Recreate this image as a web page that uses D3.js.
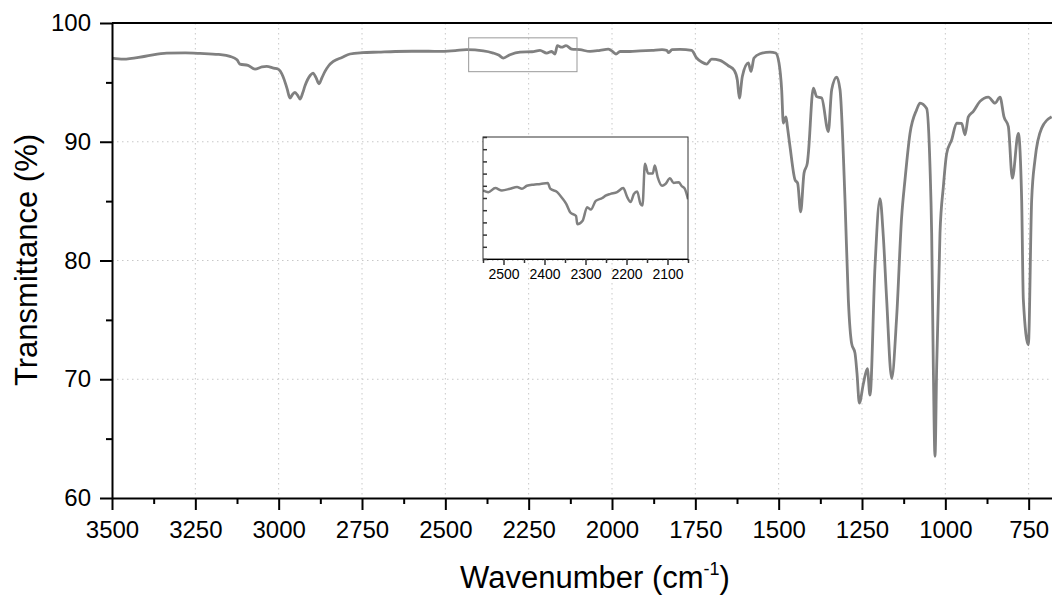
<!DOCTYPE html>
<html>
<head>
<meta charset="utf-8">
<script src="https://cdn.jsdelivr.net/npm/d3@7"></script>
<style>
  body { margin: 0; background: #fff; }
  svg { font-family: "Liberation Sans", Arial, sans-serif; }
</style>
</head>
<body>
<div id="graph"></div>
<script>
// spectrum (wavenumber cm-1, transmittance %)
var wavenumber = [3500, 3466, 3400, 3336, 3280, 3236, 3180, 3146, 3125, 3116, 3092, 3071, 3050, 3036, 3015, 3002,
    2987, 2975, 2966, 2958, 2951, 2943, 2936, 2928, 2921, 2905, 2897, 2888, 2879, 2870, 2861, 2850, 2836, 2810,
    2786, 2750, 2700, 2650, 2600, 2550, 2516, 2470, 2436, 2386, 2356, 2340, 2326, 2306, 2276, 2240, 2216, 2196,
    2181, 2171, 2164, 2151, 2138, 2121, 2096, 2066, 2036, 2011, 1996, 1988, 1976, 1946, 1916, 1880, 1850, 1836,
    1830, 1820, 1796, 1761, 1746, 1731, 1716, 1701, 1676, 1651, 1633, 1624, 1618, 1609, 1591, 1583, 1574, 1556,
    1526, 1509, 1499, 1491, 1486, 1478, 1474, 1466, 1451, 1443, 1434, 1424, 1414, 1411, 1396, 1386, 1371, 1351,
    1341, 1326, 1316, 1301, 1291, 1281, 1271, 1265, 1258, 1246, 1234, 1226, 1211, 1196, 1186, 1176, 1161, 1146,
    1131, 1121, 1106, 1086, 1076, 1056, 1046, 1041, 1036, 1031, 1026, 1016, 1006, 996, 981, 966, 951, 941, 931,
    916, 896, 871, 851, 836, 824, 811, 799, 781, 771, 766, 751, 741, 731, 711, 681];
var transmittance = [97.05, 96.96, 97.2, 97.47, 97.48, 97.44, 97.35, 97.19, 96.9, 96.54, 96.43, 96.12, 96.3, 96.34, 96.2, 96.12,
    95.5, 94.5, 93.68, 94.0, 94.15, 93.9, 93.6, 94.1, 94.71, 95.6, 95.78, 95.4, 94.88, 95.4, 95.92, 96.4, 96.76, 97.1,
    97.39, 97.5, 97.55, 97.6, 97.62, 97.62, 97.61, 97.68, 97.75, 97.66, 97.47, 97.3, 97.05, 97.33, 97.55, 97.58, 97.69, 97.47,
    97.6, 97.39, 98.09, 97.97, 98.09, 97.8, 97.75, 97.61, 97.7, 97.8, 97.55, 97.39, 97.6, 97.6, 97.65, 97.7, 97.75, 97.7,
    97.5, 97.75, 97.78, 97.69, 97.05, 96.71, 96.54, 96.96, 96.85, 96.4, 96.0, 95.2, 93.68, 95.5, 96.63, 95.92, 97.05, 97.41,
    97.55, 97.47, 96.63, 94.38, 91.57, 92.1, 91.3, 89.6, 86.8, 86.5, 84.1, 87.35, 88.2, 89.0, 94.52, 93.8, 93.68, 90.86,
    94.38, 95.45, 94.4, 85.1, 76.7, 73.0, 72.2, 70.5, 68.0, 69.6, 70.9, 68.66, 79.5, 85.2, 82.0, 76.7, 70.07, 75.26,
    83.7, 86.8, 90.7, 92.7, 93.25, 92.8, 87.9, 82.3, 71.0, 63.5, 71.0, 82.3, 86.2, 89.0, 90.16, 91.57, 91.55, 90.58, 92.1,
    92.55, 93.4, 93.76, 93.25, 93.76, 92.1, 91.28, 86.93, 90.7, 85.1, 76.7, 72.9, 85.1, 88.5, 91.15, 92.1];

// zoomed part 2550-2050 shown in the inset
var insetWavenumber = [2550, 2537, 2520, 2504, 2484, 2467, 2455, 2443, 2427, 2410, 2392, 2386, 2369, 2357, 2347, 2337,
    2323, 2320, 2307, 2296, 2287, 2275, 2259, 2251, 2239, 2223, 2208, 2198, 2190, 2182, 2174, 2166, 2161, 2155,
    2147, 2136, 2131, 2124, 2113, 2105, 2094, 2085, 2072, 2066, 2058, 2050];
var insetTransmittance = [97.63, 97.6, 97.67, 97.63, 97.66, 97.69, 97.66, 97.71, 97.73, 97.74, 97.76, 97.66, 97.6, 97.5, 97.4, 97.25,
    97.19, 97.05, 97.11, 97.34, 97.3, 97.45, 97.5, 97.54, 97.57, 97.6, 97.67, 97.51, 97.43, 97.57, 97.61, 97.4, 97.37, 98.09,
    97.92, 97.92, 98.06, 97.86, 97.71, 97.74, 97.84, 97.76, 97.77, 97.71, 97.66, 97.48];

var xTicks = [3500, 3250, 3000, 2750, 2500, 2250, 2000, 1750, 1500, 1250, 1000, 750];
var xMinor = [3375, 3125, 2875, 2625, 2375, 2125, 1875, 1625, 1375, 1125, 875];
var yTicks = [60, 70, 80, 90, 100];
var yMinor = [65, 75, 85, 95];
var insetTicks = [2500, 2400, 2300, 2200, 2100];
var insetMinor = [2550, 2450, 2350, 2250, 2150, 2050];
var zoomBox = [2430, 2105, 95.9, 98.75];

var margin = {top: 23, right: 0, bottom: 98, left: 112},
    width = 1052 - margin.left - margin.right,
    height = 596 - margin.top - margin.bottom;

var svgRoot = d3.select("#graph")
    .append("svg")
    .attr("width", 1052)
    .attr("height", 596);

var svg = svgRoot.append("g")
    .attr("transform", "translate(" + margin.left + "," + margin.top + ")");

var x = d3.scaleLinear().domain([3500, 680]).range([0, width]);
var y = d3.scaleLinear().domain([60, 100]).range([height, 0]);

var gridColor = "#c8c8c8";
var fmt = d3.format("d");

// grid
svg.selectAll(".vgrid")
    .data(xTicks.slice(1))
    .enter()
    .append("line")
    .attr("x1", d => x(d)).attr("x2", d => x(d))
    .attr("y1", 0).attr("y2", height)
    .attr("stroke", gridColor)
    .attr("stroke-dasharray", "1.5,3.5");

svg.selectAll(".hgrid")
    .data(yTicks.slice(1, -1))
    .enter()
    .append("line")
    .attr("x1", 0).attr("x2", width)
    .attr("y1", d => y(d)).attr("y2", d => y(d))
    .attr("stroke", gridColor)
    .attr("stroke-dasharray", "1.5,3.5");

var spectrum = wavenumber.map((d, i) => [d, transmittance[i]]);

var line = d3.line()
    .x(d => x(d[0]))
    .y(d => y(d[1]))
    .curve(d3.curveMonotoneX);

svg.append("path")
    .datum(spectrum)
    .attr("fill", "none")
    .attr("stroke", "#808080")
    .attr("stroke-width", 2.8)
    .attr("stroke-linejoin", "round")
    .attr("d", line);

// rectangle marking the zoomed part
svg.append("rect")
    .attr("x", x(zoomBox[0]))
    .attr("y", y(zoomBox[3]))
    .attr("width", x(zoomBox[1]) - x(zoomBox[0]))
    .attr("height", y(zoomBox[2]) - y(zoomBox[3]))
    .attr("fill", "none")
    .attr("stroke", "#999")
    .attr("stroke-width", 1);

// axes
var xAxis = svg.append("g")
    .attr("transform", "translate(0," + height + ")")
    .call(d3.axisBottom(x).tickValues(xTicks).tickSize(12).tickSizeOuter(0).tickPadding(11).tickFormat(fmt));
svg.append("g")
    .attr("transform", "translate(0," + height + ")")
    .call(d3.axisBottom(x).tickValues(xMinor).tickSize(6).tickSizeOuter(0).tickFormat(""))
    .select(".domain").remove();

var yAxis = svg.append("g")
    .call(d3.axisLeft(y).tickValues(yTicks).tickSize(12).tickSizeOuter(0).tickPadding(9).tickFormat(fmt));
svg.append("g")
    .call(d3.axisLeft(y).tickValues(yMinor).tickSize(6).tickSizeOuter(0).tickFormat(""))
    .select(".domain").remove();

svg.selectAll(".domain").attr("stroke-width", 2);
svg.selectAll(".tick line").attr("stroke-width", 2);
xAxis.selectAll("text").attr("font-size", 24).attr("fill", "#000");
yAxis.selectAll("text").attr("font-size", 24).attr("fill", "#000");

// top border
svg.append("line")
    .attr("x1", 0).attr("x2", width)
    .attr("y1", 0).attr("y2", 0)
    .attr("stroke", "#000")
    .attr("stroke-width", 2);

// axis titles
var xTitle = svgRoot.append("text")
    .attr("x", 595)
    .attr("y", 588)
    .attr("text-anchor", "middle")
    .attr("font-size", 31);
xTitle.append("tspan").text("Wavenumber (cm");
xTitle.append("tspan").attr("font-size", 18).attr("dy", -13).text("-1");
xTitle.append("tspan").attr("dy", 13).text(")");

svgRoot.append("text")
    .attr("transform", "translate(37,260) rotate(-90)")
    .attr("text-anchor", "middle")
    .attr("font-size", 31)
    .text("Transmittance (%)");

// inset
var inset = {left: 483, top: 137, width: 205, height: 122};
var ig = svgRoot.append("g")
    .attr("transform", "translate(" + inset.left + "," + inset.top + ")");

var xi = d3.scaleLinear().domain([2550, 2050]).range([0, inset.width]);
var yi = d3.scaleLinear().domain([96.45, 98.55]).range([inset.height, 0]);

ig.append("rect")
    .attr("width", inset.width)
    .attr("height", inset.height)
    .attr("fill", "#fff");

ig.append("clipPath").attr("id", "insetClip")
    .append("rect").attr("width", inset.width).attr("height", inset.height);

var insetData = insetWavenumber.map((d, i) => [d, insetTransmittance[i]]);

ig.append("path")
    .datum(insetData)
    .attr("clip-path", "url(#insetClip)")
    .attr("fill", "none")
    .attr("stroke", "#808080")
    .attr("stroke-width", 2.5)
    .attr("stroke-linejoin", "round")
    .attr("d", d3.line().x(d => xi(d[0])).y(d => yi(d[1])).curve(d3.curveMonotoneX));

ig.append("rect")
    .attr("width", inset.width)
    .attr("height", inset.height)
    .attr("fill", "none")
    .attr("stroke", "#333")
    .attr("stroke-width", 1);

var ixAxis = ig.append("g")
    .attr("transform", "translate(0," + inset.height + ")")
    .call(d3.axisBottom(xi).tickValues(insetTicks).tickSize(6).tickSizeOuter(0).tickPadding(4).tickFormat(fmt));
ig.append("g")
    .attr("transform", "translate(0," + inset.height + ")")
    .call(d3.axisBottom(xi).tickValues(insetMinor).tickSize(4).tickSizeOuter(0).tickFormat(""))
    .select(".domain").remove();
ixAxis.selectAll("text").attr("font-size", 14).attr("fill", "#000");

var insetY = d3.range(0, 11).map(i => 96.45 + i * 0.21);
ig.append("g")
    .call(d3.axisRight(yi).tickValues(insetY).tickSize(4).tickSizeOuter(0).tickFormat(""))
    .select(".domain").remove();
ig.selectAll(".tick line").attr("stroke", "#333").attr("stroke-width", 1.5);
</script>
</body>
</html>
